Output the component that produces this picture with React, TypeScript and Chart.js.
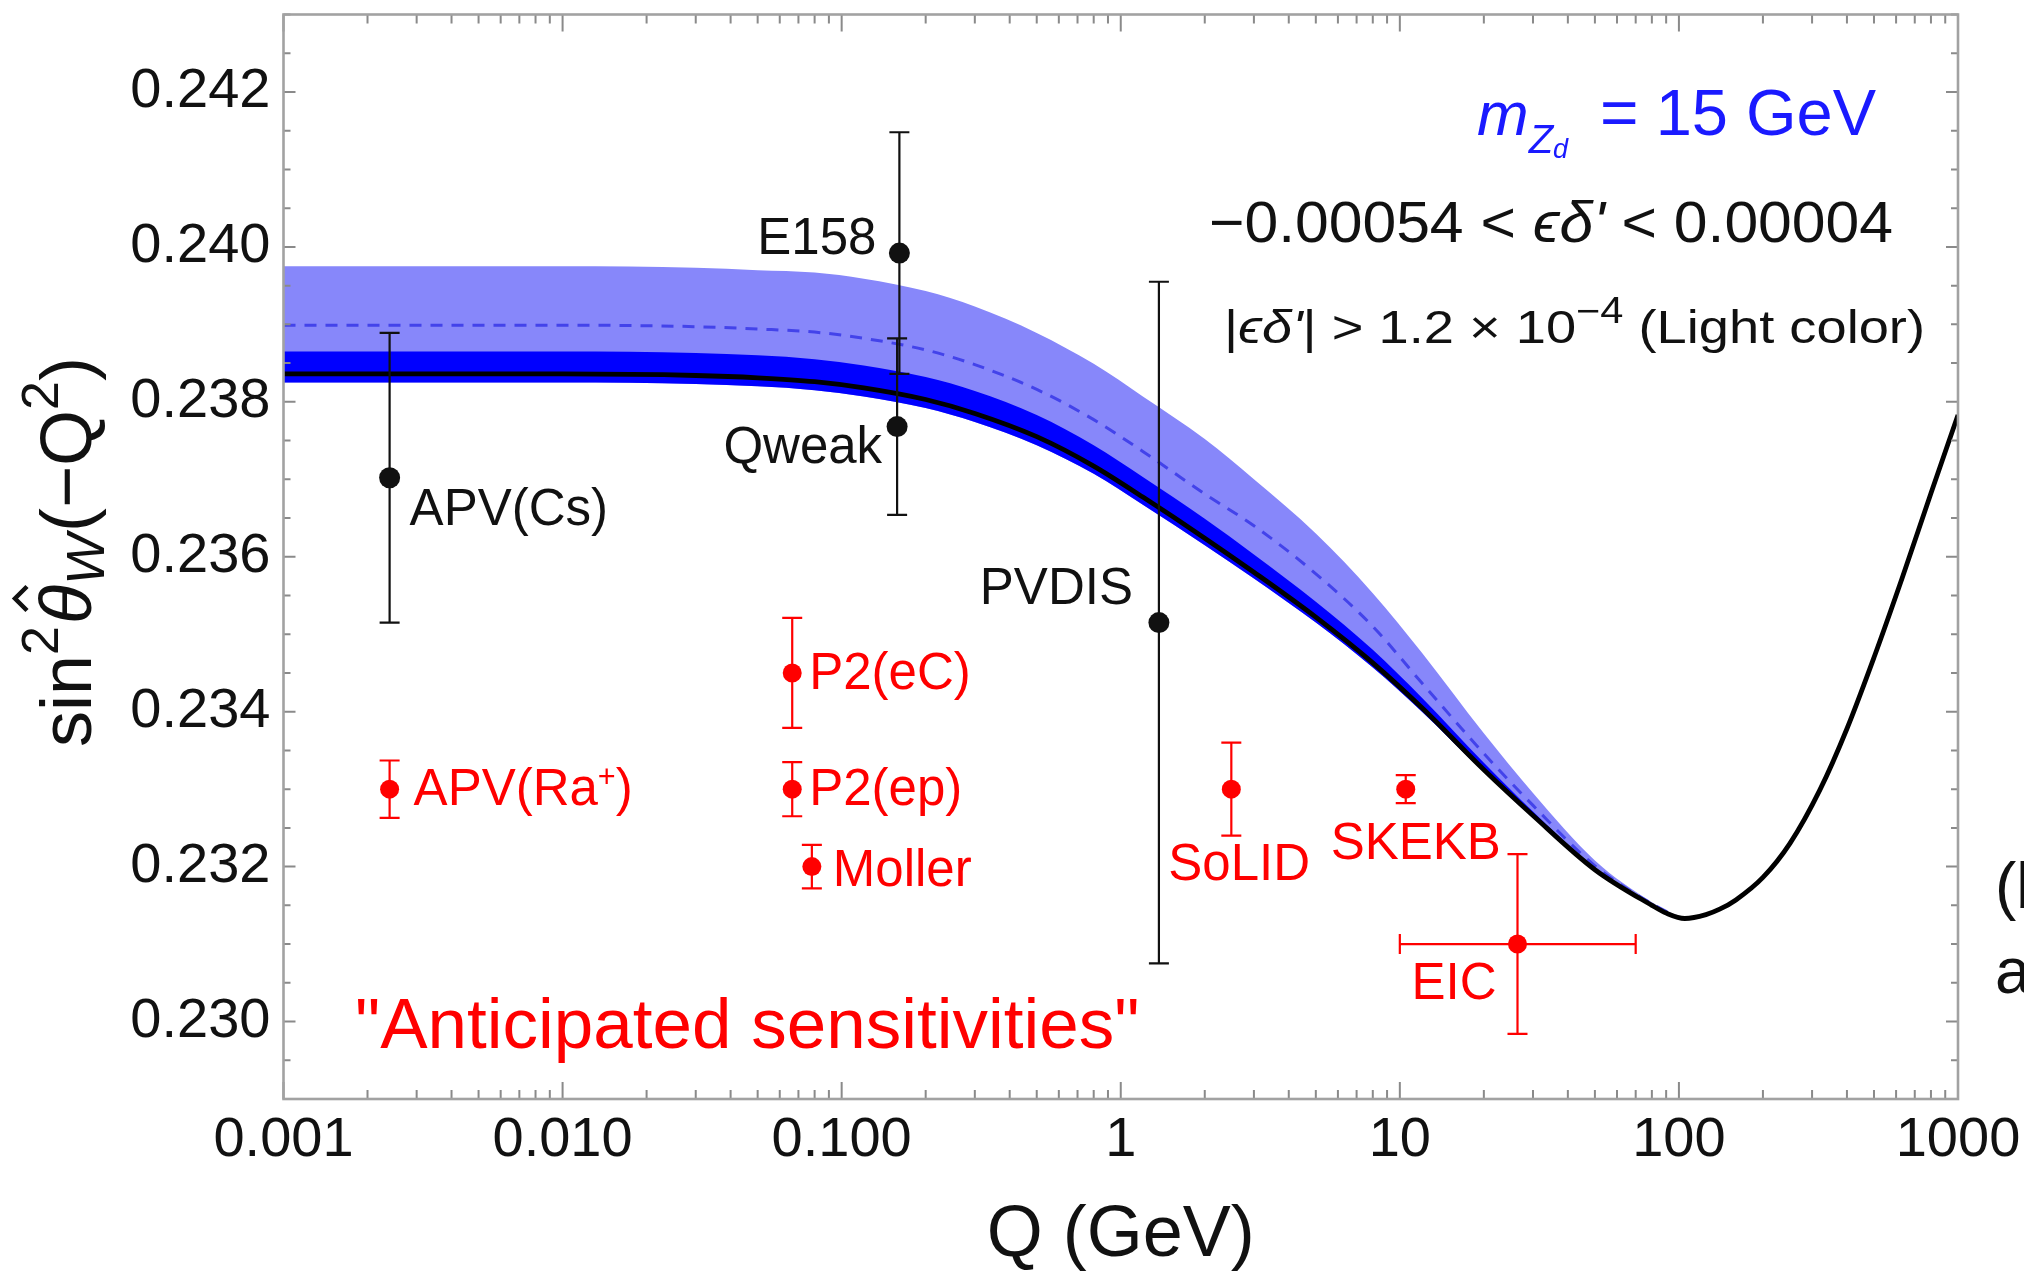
import React, { useEffect, useRef } from "react";
import { Chart, registerables } from "chart.js";

Chart.register(...registerables);

const FONT = '"Liberation Sans", Arial, Helvetica, sans-serif';

// ---------- theory curves ----------
// Momentum transfer Q (GeV) for the Standard Model running
const qGrid = [
  0.001, 0.01, 0.03, 0.05, 0.08, 0.12, 0.2, 0.3, 0.5, 0.8, 1.2, 2, 3, 5, 8, 12,
  20, 30, 50, 80, 90, 105, 125, 140, 160, 200, 250, 320, 400, 500, 630, 800, 1000,
];
// SM sin^2 theta_W(Q)
const smCurve = [
  0.23836, 0.23836, 0.23834, 0.23831, 0.23826, 0.23818, 0.23803, 0.23785,
  0.23755, 0.23717, 0.23677, 0.23624, 0.2358, 0.23522, 0.23463, 0.23405,
  0.23325, 0.23266, 0.23196, 0.2315, 0.2314, 0.23133, 0.23138, 0.23145,
  0.23157, 0.23186, 0.2323, 0.23299, 0.23378, 0.2347, 0.23572, 0.23682, 0.23783,
];

// Dark Z (m_Zd = 15 GeV) bands, up to 100 GeV
const bandQ = [
  0.001, 0.01, 0.03, 0.05, 0.08, 0.12, 0.2, 0.3, 0.5, 0.8, 1.2, 2, 3, 5, 8, 12,
  20, 30, 50, 80, 100,
];
const lightUpper = [
  0.23975, 0.23975, 0.23973, 0.2397, 0.23967, 0.23959, 0.23943, 0.23923,
  0.23889, 0.23849, 0.23807, 0.23752, 0.237, 0.2363, 0.23553, 0.23476,
  0.23372, 0.23295, 0.23208, 0.23154, 0.23135,
];
const dashedCurve = [
  0.23899, 0.23899, 0.23897, 0.23894, 0.2389, 0.23882, 0.23867, 0.23848,
  0.23816, 0.23777, 0.23736, 0.23681, 0.2364, 0.23578, 0.2351, 0.23437,
  0.23346, 0.23279, 0.23201, 0.23152, 0.23134,
];
const darkUpper = [
  0.23865, 0.23865, 0.23863, 0.2386, 0.23855, 0.23847, 0.23832, 0.23814,
  0.23783, 0.23744, 0.23703, 0.23649, 0.23603, 0.23542, 0.2348, 0.23418,
  0.23334, 0.23271, 0.23198, 0.23151, 0.23134,
];
const darkLower = [
  0.23825, 0.23825, 0.23823, 0.2382, 0.23815, 0.23807, 0.23792, 0.23774,
  0.23744, 0.23707, 0.23667, 0.23615, 0.23572, 0.23515, 0.23457, 0.234,
  0.23322, 0.23264, 0.23195, 0.23149, 0.23134,
];

// ---------- measurements ----------
const expNames = ["APV(Cs)", "E158", "Qweak", "PVDIS"];
const expQ = [0.0024, 0.161, 0.158, 1.37];
const expValue = [0.23702, 0.23992, 0.23768, 0.23515];
const expError = [0.00187, 0.00156, 0.00114, 0.0044];

// ---------- anticipated sensitivities ----------
const futureNames = ["APV(Ra⁺)", "P2(eC)", "P2(ep)", "Moller", "SoLID", "SKEKB", "EIC"];
const futureQ = [0.0024, 0.0665, 0.0665, 0.0782, 2.49, 10.5, 26.4];
const futureValue = [0.233, 0.2345, 0.233, 0.232, 0.233, 0.233, 0.231];
const futureError = [0.00037, 0.00071, 0.00035, 0.00028, 0.0006, 0.00018, 0.00116];
const eicQRange = [10, 70];

// ---------- axes ----------
const xTickValues = [0.001, 0.01, 0.1, 1, 10, 100, 1000];
const xTickLabels = ["0.001", "0.010", "0.100", "1", "10", "100", "1000"];
const yTickValues = [0.23, 0.232, 0.234, 0.236, 0.238, 0.24, 0.242];
const yTickLabels = ["0.230", "0.232", "0.234", "0.236", "0.238", "0.240", "0.242"];
const yMin = 0.229;
const yMax = 0.243;
const yMinorStep = 0.0005;

// ---------- styling ----------
const LIGHT_BAND = "#8787fa";
const DARK_BAND = "#0000ff";
const DASHED = "#4343ea";
const RED = "#ff0000";
const BLUE_TEXT = "#1a1aff";
const INK = "#111111";
const FRAME = "#a2a2a2";
const TICK = "#8a8a8a";
const LABEL_SIZE = 51;

type Place = { dx: number; dy: number; align: "left" | "right" };
// label offsets (px) from each marker, measured to the cap-height centre
const expLabelPlace: Place[] = [
  { dx: 20, dy: 29, align: "left" },
  { dx: -23, dy: -17, align: "right" },
  { dx: -15, dy: 18, align: "right" },
  { dx: -26, dy: -37, align: "right" },
];
const futureLabelPlace: Place[] = [
  { dx: 24, dy: -2, align: "left" },
  { dx: 17, dy: -2, align: "left" },
  { dx: 17, dy: -2, align: "left" },
  { dx: 21, dy: 1, align: "left" },
  { dx: -63, dy: 73, align: "left" },
  { dx: -75, dy: 52, align: "left" },
  { dx: -106, dy: 37, align: "left" },
];

type Run = { text: string; size: number; italic?: boolean; rise?: number; gap?: number };

function fontOf(r: Run) {
  return `${r.italic ? "italic " : ""}${r.size}px ${FONT}`;
}

function measureRuns(ctx: CanvasRenderingContext2D, runs: Run[]) {
  let w = 0;
  for (const r of runs) {
    ctx.font = fontOf(r);
    w += (r.gap ?? 0) + ctx.measureText(r.text).width;
  }
  return w;
}

function drawRuns(
  ctx: CanvasRenderingContext2D,
  runs: Run[],
  x: number,
  y: number,
  color: string,
  align: "left" | "right" | "center" = "left",
  fitWidth?: number
) {
  const natural = measureRuns(ctx, runs);
  const stretch = fitWidth ? fitWidth / natural : 1;
  const total = natural * stretch;
  const start = align === "right" ? x - total : align === "center" ? x - total / 2 : x;
  const spans: { x: number; w: number }[] = [];
  ctx.save();
  ctx.translate(start, y);
  ctx.scale(stretch, 1);
  ctx.fillStyle = color;
  ctx.textAlign = "left";
  ctx.textBaseline = "alphabetic";
  let cx = 0;
  for (const r of runs) {
    cx += r.gap ?? 0;
    ctx.font = fontOf(r);
    const w = ctx.measureText(r.text).width;
    spans.push({ x: start + cx * stretch, w: w * stretch });
    ctx.fillText(r.text, cx, -(r.rise ?? 0));
    cx += w;
  }
  ctx.restore();
  return spans;
}

function nameRuns(name: string, size: number): Run[] {
  if (name.includes("⁺")) {
    const [a, b] = name.split("⁺");
    return [
      { text: a, size },
      { text: "+", size: size * 0.6, rise: size * 0.37 },
      { text: b, size },
    ];
  }
  return [{ text: name, size }];
}

// error bars for the scatter datasets, drawn just beneath their markers
const errorBarPlugin = {
  id: "errorBars",
  beforeDatasetDraw(chart: any, args: any) {
    const ds: any = chart.data.datasets[args.index];
    if (!ds.errorY) return;
    const { ctx, scales } = chart;
    const xs = scales.x;
    const ys = scales.y;
    const cap = 10;
    ctx.save();
    ctx.strokeStyle = ds.barColor;
    ctx.lineWidth = 2.2;
    ds.data.forEach((p: any, i: number) => {
      const px = xs.getPixelForValue(p.x);
      const top = ys.getPixelForValue(p.y + ds.errorY[i]);
      const bot = ys.getPixelForValue(p.y - ds.errorY[i]);
      ctx.beginPath();
      ctx.moveTo(px, top);
      ctx.lineTo(px, bot);
      ctx.moveTo(px - cap, top);
      ctx.lineTo(px + cap, top);
      ctx.moveTo(px - cap, bot);
      ctx.lineTo(px + cap, bot);
      if (ds.errorX && ds.errorX[i]) {
        const py = ys.getPixelForValue(p.y);
        const lx = xs.getPixelForValue(ds.errorX[i][0]);
        const rx = xs.getPixelForValue(ds.errorX[i][1]);
        ctx.moveTo(lx, py);
        ctx.lineTo(rx, py);
        ctx.moveTo(lx, py - cap);
        ctx.lineTo(lx, py + cap);
        ctx.moveTo(rx, py - cap);
        ctx.lineTo(rx, py + cap);
      }
      ctx.stroke();
    });
    ctx.restore();
  },
};

// frame with inward ticks on all four sides, plus all text annotations
const decorPlugin = {
  id: "decor",
  afterDatasetsDraw(chart: any) {
    const { ctx, chartArea: a, scales } = chart;
    const xs = scales.x;
    const ys = scales.y;

    // ticks
    ctx.save();
    ctx.strokeStyle = TICK;
    ctx.lineWidth = 2;
    ctx.beginPath();
    xTickValues.forEach((d, i) => {
      const px = xs.getPixelForValue(d);
      ctx.moveTo(px, a.bottom);
      ctx.lineTo(px, a.bottom - 17);
      ctx.moveTo(px, a.top);
      ctx.lineTo(px, a.top + 17);
      if (i < xTickValues.length - 1) {
        for (let k = 2; k <= 9; k++) {
          const mx = xs.getPixelForValue(d * k);
          ctx.moveTo(mx, a.bottom);
          ctx.lineTo(mx, a.bottom - 9);
          ctx.moveTo(mx, a.top);
          ctx.lineTo(mx, a.top + 9);
        }
      }
    });
    const nMinor = Math.round((yMax - yMin) / yMinorStep);
    for (let i = 0; i <= nMinor; i++) {
      const v = yMin + i * yMinorStep;
      const py = ys.getPixelForValue(v);
      const major = yTickValues.some((t) => Math.abs(t - v) < 1e-7);
      const len = major ? 12 : 7;
      ctx.moveTo(a.left, py);
      ctx.lineTo(a.left + len, py);
      ctx.moveTo(a.right, py);
      ctx.lineTo(a.right - len, py);
    }
    ctx.stroke();
    ctx.strokeStyle = FRAME;
    ctx.lineWidth = 2.6;
    ctx.strokeRect(a.left, a.top, a.right - a.left, a.bottom - a.top);
    ctx.restore();

    // experiment names
    expNames.forEach((name, i) => {
      const pl = expLabelPlace[i];
      const px = xs.getPixelForValue(expQ[i]) + pl.dx;
      const py = ys.getPixelForValue(expValue[i]) + pl.dy + LABEL_SIZE * 0.358;
      drawRuns(ctx, nameRuns(name, LABEL_SIZE), px, py, INK, pl.align);
    });
    futureNames.forEach((name, i) => {
      const pl = futureLabelPlace[i];
      const px = xs.getPixelForValue(futureQ[i]) + pl.dx;
      const py = ys.getPixelForValue(futureValue[i]) + pl.dy + LABEL_SIZE * 0.358;
      drawRuns(ctx, nameRuns(name, LABEL_SIZE), px, py, RED, pl.align);
    });

    // annotations
    drawRuns(
      ctx,
      [
        { text: "m", size: 62, italic: true },
        { text: "Z", size: 40, italic: true, rise: -18 },
        { text: "d", size: 27, italic: true, rise: -23 },
        { text: "=", size: 66, gap: 32 },
        { text: "15 GeV", size: 65, gap: 17 },
      ],
      1477,
      135,
      BLUE_TEXT
    );
    drawRuns(
      ctx,
      [
        { text: "−0.00054 < ", size: 58 },
        { text: "ϵδ'", size: 58, italic: true },
        { text: " < 0.00004", size: 58 },
      ],
      1209,
      242,
      INK,
      "left",
      684
    );
    drawRuns(
      ctx,
      [
        { text: "|", size: 47 },
        { text: "ϵδ'", size: 47, italic: true },
        { text: "| > 1.2 × 10", size: 47 },
        { text: "−4", size: 36, rise: 20 },
        { text: " (Light color)", size: 47 },
      ],
      1224,
      343,
      INK,
      "left",
      701
    );
    drawRuns(ctx, [{ text: '"Anticipated sensitivities"', size: 71 }], 355, 1048, RED);

    // y-axis title: sin^2 theta-hat_W(-Q^2)
    ctx.save();
    ctx.translate(91, 552);
    ctx.rotate(-Math.PI / 2);
    const spans = drawRuns(
      ctx,
      [
        { text: "sin", size: 72 },
        { text: "2", size: 52, rise: 33 },
        { text: "θ", size: 72, italic: true, gap: 2 },
        { text: "W", size: 54, italic: true, rise: -13 },
        { text: "(−Q", size: 72, gap: 2 },
        { text: "2", size: 52, rise: 33 },
        { text: ")", size: 72 },
      ],
      0,
      0,
      INK,
      "center"
    );
    const th = spans[2];
    const hx = th.x + th.w / 2 + 6;
    ctx.strokeStyle = INK;
    ctx.lineWidth = 4.5;
    ctx.lineJoin = "miter";
    ctx.beginPath();
    ctx.moveTo(hx - 12, -64);
    ctx.lineTo(hx, -76);
    ctx.lineTo(hx + 12, -64);
    ctx.stroke();
    ctx.restore();

    // neighbouring caption text at the figure edge
    drawRuns(ctx, [{ text: "(b", size: 64 }], 1995, 908, INK);
    drawRuns(ctx, [{ text: "a", size: 64 }], 1995, 993, INK);
  },
};

const pts = (xs: number[], ys: number[]) => xs.map((x, i) => ({ x, y: ys[i] }));

export default function App() {
  const ref = useRef<HTMLCanvasElement>(null);

  useEffect(() => {
    document.body.style.margin = "0";
    document.body.style.overflow = "hidden";
    const canvas = ref.current;
    if (!canvas) return;

    const lineBase = {
      type: "line",
      pointRadius: 0,
      pointHoverRadius: 0,
      cubicInterpolationMode: "monotone",
      borderColor: "rgba(0,0,0,0)",
      borderWidth: 0,
      fill: false,
    };

    const chart = new Chart(canvas, {
      type: "line",
      data: {
        datasets: [
          {
            type: "scatter",
            label: "Measurements",
            data: pts(expQ, expValue),
            pointRadius: 10.5,
            pointHoverRadius: 10.5,
            pointBackgroundColor: INK,
            pointBorderWidth: 0,
            order: 1,
            errorY: expError,
            barColor: INK,
          } as any,
          {
            type: "scatter",
            label: "Anticipated",
            data: pts(futureQ, futureValue),
            pointRadius: 9.5,
            pointHoverRadius: 9.5,
            pointBackgroundColor: RED,
            pointBorderWidth: 0,
            order: 1,
            errorY: futureError,
            errorX: futureNames.map((n) => (n === "EIC" ? eicQRange : null)),
            barColor: RED,
          } as any,
          {
            ...lineBase,
            label: "SM",
            data: pts(qGrid, smCurve),
            borderColor: "#000000",
            borderWidth: 4.8,
            order: 2,
          } as any,
          {
            ...lineBase,
            label: "dashed",
            data: pts(bandQ, dashedCurve),
            borderColor: DASHED,
            borderWidth: 3,
            borderDash: [12, 9],
            order: 3,
          } as any,
          {
            ...lineBase,
            label: "dark lower",
            data: pts(bandQ, darkLower),
            order: 6,
          } as any,
          {
            ...lineBase,
            label: "light upper",
            data: pts(bandQ, lightUpper),
            fill: 4,
            backgroundColor: LIGHT_BAND,
            order: 5,
          } as any,
          {
            ...lineBase,
            label: "dark upper",
            data: pts(bandQ, darkUpper),
            fill: 4,
            backgroundColor: DARK_BAND,
            order: 4,
          } as any,
        ],
      },
      options: {
        responsive: false,
        animation: false,
        devicePixelRatio: 1,
        events: [],
        layout: { padding: { left: 0, right: 66, top: 14.5, bottom: 0 }, autoPadding: false },
        plugins: {
          legend: { display: false },
          tooltip: { enabled: false },
          filler: { propagate: false },
        },
        scales: {
          x: {
            type: "logarithmic",
            min: 0.001,
            max: 1000,
            afterBuildTicks: (s: any) => {
              s.ticks = xTickValues.map((v) => ({ value: v }));
            },
            afterFit: (s: any) => {
              s.height = 175;
              s.paddingLeft = 0;
              s.paddingRight = 0;
            },
            ticks: {
              callback: (_v: any, i: number) => xTickLabels[i],
              autoSkip: false,
              maxRotation: 0,
              minRotation: 0,
              padding: 8,
              color: INK,
              font: { family: FONT, size: 56 },
            },
            grid: { display: false, drawTicks: false },
            border: { display: false },
            title: {
              display: true,
              text: "Q (GeV)",
              color: INK,
              font: { family: FONT, size: 72, lineHeight: 1 },
              padding: { top: 0, bottom: 2 },
            },
          },
          y: {
            type: "linear",
            min: yMin,
            max: yMax,
            afterBuildTicks: (s: any) => {
              s.ticks = yTickValues.map((v) => ({ value: v }));
            },
            afterFit: (s: any) => {
              s.width = 283.5;
              s.paddingTop = 0;
              s.paddingBottom = 0;
            },
            ticks: {
              callback: (_v: any, i: number) => yTickLabels[i],
              padding: 13,
              color: INK,
              font: { family: FONT, size: 56 },
            },
            grid: { display: false, drawTicks: false },
            border: { display: false },
          },
        },
      } as any,
      plugins: [errorBarPlugin, decorPlugin],
    } as any);

    return () => chart.destroy();
  }, []);

  return (
    <div style={{ width: 2024, height: 1274, background: "#ffffff" }}>
      <canvas ref={ref} width={2024} height={1274} style={{ display: "block", width: 2024, height: 1274 }} />
    </div>
  );
}
